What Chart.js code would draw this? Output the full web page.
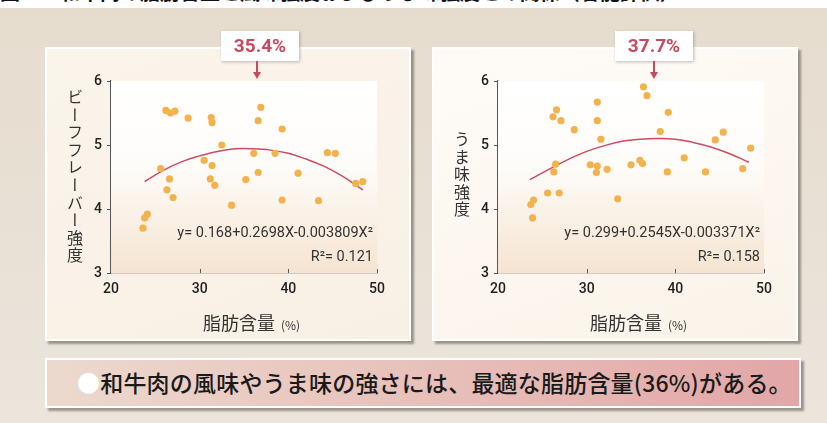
<!DOCTYPE html>
<html>
<head>
<meta charset="utf-8">
<script src="https://cdn.jsdelivr.net/npm/chart.js@4.4.1/dist/chart.umd.min.js"></script>
<style>
  html, body { margin: 0; padding: 0; }
  body {
    width: 827px; height: 423px; position: relative; overflow: hidden;
    background: linear-gradient(180deg, #e6dcce 0%, #e9e1d6 60%, #ece5dc 100%);
    font-family: "Noto Sans CJK JP", sans-serif;
  }
  .topstrip { position: absolute; left: 0; top: 0; width: 827px; height: 8px; background: #fff; overflow: hidden; }
  .topstrip span { position: absolute; left: 0; top: -19px; font-size: 20px; line-height: 22px; font-weight: 700; color: #111; white-space: nowrap; }
  .panel {
    position: absolute; top: 47px; width: 366px; height: 294px; box-sizing: border-box;
    border: 2px solid #fff; box-shadow: 3px 3px 2px rgba(60,50,40,0.45);
  }
  #p1 { left: 45px; background: linear-gradient(160deg, #fbf4eb 0%, #f9f0e5 100%); }
  #p2 { left: 432px; background: linear-gradient(160deg, #fefbf7 0%, #fbf3e9 100%); }
  canvas.c { position: absolute; top: 47px; }
  .ylab {
    position: absolute; writing-mode: vertical-rl; font-size: 16px; line-height: 16px;
    letter-spacing: 1.6px; color: #333;
  }
  .xlab { position: absolute; top: 309px; font-size: 18px; color: #333; white-space: nowrap; }
  .xlab small { font-size: 12px; margin-left: 6px; }
  .callout {
    position: absolute; top: 31px; width: 78px; height: 30px; background: #fff;
    box-shadow: 1px 1px 3px rgba(0,0,0,0.25); text-align: center;
    font-family: Roboto, sans-serif; font-weight: 700; font-size: 19px; line-height: 30px; color: #c84a60;
  }
  .arrow { position: absolute; top: 61px; width: 2px; height: 12px; background: #c84a60; }
  .arrowhead { position: absolute; top: 72px; width: 0; height: 0;
    border-left: 4px solid transparent; border-right: 4px solid transparent; border-top: 7px solid #c84a60; }
  .banner {
    position: absolute; left: 45px; top: 358px; width: 756px; height: 50px; box-sizing: border-box;
    border: 2px solid #fff; box-shadow: 3px 3px 2px rgba(60,50,40,0.45);
    background: linear-gradient(90deg, #ecd9cd 0%, #e8c3bc 45%, #e2a6a7 100%);
    font-size: 23px; line-height: 45px; color: #1a1a1a; font-weight: 500; padding-left: 30px;
    letter-spacing: 0.2px; white-space: nowrap;
  }
  .banner b { color: #fff; font-weight: 400; }
</style>
</head>
<body>
<div class="topstrip"><span>図２　和牛肉の脂肪含量と風味強度およびうま味強度との関係（官能評価）</span></div>
<div class="panel" id="p1"></div>
<div class="panel" id="p2"></div>
<canvas class="c" id="chart1" width="366" height="294" style="left:45px"></canvas>
<canvas class="c" id="chart2" width="366" height="294" style="left:432px"></canvas>

<div class="ylab" style="left:67px; top:89px;">ビーフフレーバー強度</div>
<div class="ylab" style="left:454px; top:131px;">うま味強度</div>
<div class="xlab" style="left:203px;">脂肪含量<small>(%)</small></div>
<div class="xlab" style="left:590px;">脂肪含量<small>(%)</small></div>

<div class="callout" style="left:221px;">35.4%</div>
<div class="arrow" style="left:256px;"></div>
<div class="arrowhead" style="left:253px;"></div>
<div class="callout" style="left:615px;">37.7%</div>
<div class="arrow" style="left:653px;"></div>
<div class="arrowhead" style="left:650px;"></div>

<div class="banner"><b>●</b>和牛肉の風味やうま味の強さには、最適な脂肪含量(36%)がある。</div>

<script>
// beef flavour vs fat content
const fatA = [26.2, 26.7, 27.2, 28.7, 31.3, 31.4, 36.9, 36.6, 39.3, 32.5, 30.5, 31.4, 25.6, 26.6, 26.3, 27.0, 31.2, 31.7, 33.6, 35.2, 36.1, 36.6, 38.5, 41.1, 39.3, 43.4, 44.4, 45.3, 47.6, 48.4, 23.6, 23.8, 24.1];
const flavorA = [5.54, 5.50, 5.53, 5.42, 5.43, 5.35, 5.59, 5.38, 5.25, 5.00, 4.76, 4.68, 4.63, 4.47, 4.30, 4.18, 4.47, 4.37, 4.06, 4.46, 4.87, 4.57, 4.87, 4.56, 4.14, 4.13, 4.88, 4.87, 4.40, 4.43, 3.70, 3.86, 3.92];
const fitXA = [23.8, 26, 28, 30, 32, 34, 36, 38, 40, 42, 44, 46, 48.4];
const fitYA = [4.43, 4.61, 4.74, 4.83, 4.90, 4.94, 4.94, 4.92, 4.87, 4.78, 4.67, 4.52, 4.30];

// umami vs fat content
const fatB = [36.4, 36.8, 31.2, 26.6, 26.2, 27.1, 31.2, 39.2, 28.6, 38.3, 31.6, 45.4, 44.5, 48.5, 41.0, 30.4, 31.2, 31.1, 32.3, 35.0, 36.0, 36.3, 39.1, 43.4, 47.6, 26.5, 26.3, 25.6, 26.9, 33.5, 23.7, 24.0, 23.9];
const umamiB = [5.91, 5.77, 5.67, 5.55, 5.44, 5.38, 5.38, 5.51, 5.24, 5.21, 5.09, 5.20, 5.08, 4.95, 4.80, 4.69, 4.67, 4.57, 4.62, 4.69, 4.76, 4.71, 4.58, 4.58, 4.63, 4.70, 4.58, 4.25, 4.25, 4.16, 4.07, 4.14, 3.86];
const fitXB = [23.6, 26, 28, 30, 32, 34, 36, 38, 40, 42, 44, 46, 48.3];
const fitYB = [4.46, 4.64, 4.78, 4.90, 4.99, 5.06, 5.09, 5.10, 5.09, 5.04, 4.97, 4.87, 4.73];

const xTicks = [20, 30, 40, 50];
const yTicks = [3, 4, 5, 6];

function pairs(xs, ys) {
  return xs.map((x, i) => ({ x: x, y: ys[i] }));
}

const plotDecor = {
  id: "plotDecor",
  beforeDatasetsDraw(chart) {
    const { ctx, chartArea: a } = chart;
    const g = ctx.createLinearGradient(0, a.top, 0, a.bottom);
    g.addColorStop(0, "#ffffff");
    g.addColorStop(0.45, "#fefcf9");
    g.addColorStop(1, "#f5e4d1");
    ctx.save();
    ctx.fillStyle = g;
    ctx.fillRect(a.left, a.top, a.right - a.left, a.bottom - a.top);
    ctx.restore();
  },
  afterDraw(chart, args, opts) {
    const { ctx, chartArea: a, scales } = chart;
    ctx.save();
    // small inward ticks on the x axis
    ctx.strokeStyle = "#555";
    ctx.lineWidth = 1;
    xTicks.slice(1).forEach(v => {
      const px = Math.round(scales.x.getPixelForValue(v)) + 0.5;
      ctx.beginPath();
      ctx.moveTo(px, a.bottom);
      ctx.lineTo(px, a.bottom - 4);
      ctx.stroke();
    });
    ctx.fillStyle = "#333";
    ctx.font = "14.5px Roboto";
    ctx.textAlign = "right";
    ctx.textBaseline = "middle";
    ctx.fillText(opts.eq, a.right - 4, a.bottom - 40);
    ctx.fillText(opts.r2, a.right - 4, a.bottom - 16);
    ctx.restore();
  }
};

function makeChart(id, xs, ys, fx, fy, eq, r2) {
  new Chart(document.getElementById(id), {
    type: "scatter",
    data: {
      datasets: [
        {
          type: "line",
          data: pairs(fx, fy),
          borderColor: "#cc4b63",
          borderWidth: 1.5,
          pointRadius: 0,
          tension: 0.4,
          fill: false,
          order: 2
        },
        {
          data: pairs(xs, ys),
          backgroundColor: "#f3b24c",
          borderWidth: 0,
          pointRadius: 3.6,
          order: 1
        }
      ]
    },
    options: {
      responsive: false,
      animation: false,
      layout: { autoPadding: false, padding: { left: 0, top: 34, right: 34, bottom: 0 } },
      plugins: {
        legend: { display: false },
        tooltip: { enabled: false },
        plotDecor: { eq: eq, r2: r2 }
      },
      scales: {
        x: {
          type: "linear",
          min: 20, max: 50,
          afterBuildTicks: s => { s.ticks = xTicks.map(v => ({ value: v })); },
          afterFit: s => { s.height = 68; },
          grid: { drawOnChartArea: false, drawTicks: false },
          border: { color: "#555", width: 1.2 },
          ticks: { color: "#222", padding: 8, font: { family: "Roboto", size: 14, weight: "500" } }
        },
        y: {
          min: 3, max: 6,
          afterBuildTicks: s => { s.ticks = yTicks.map(v => ({ value: v })); },
          afterFit: s => { s.width = 66; },
          grid: { drawOnChartArea: false, drawTicks: true, tickLength: 4, color: "#555" },
          border: { color: "#555", width: 1.2 },
          ticks: { color: "#222", padding: 5, font: { family: "Roboto", size: 14, weight: "500" } }
        }
      }
    },
    plugins: [plotDecor]
  });
}

makeChart("chart1", fatA, flavorA, fitXA, fitYA, "y= 0.168+0.2698X-0.003809X²", "R²= 0.121");
makeChart("chart2", fatB, umamiB, fitXB, fitYB, "y= 0.299+0.2545X-0.003371X²", "R²= 0.158");
</script>
</body>
</html>
